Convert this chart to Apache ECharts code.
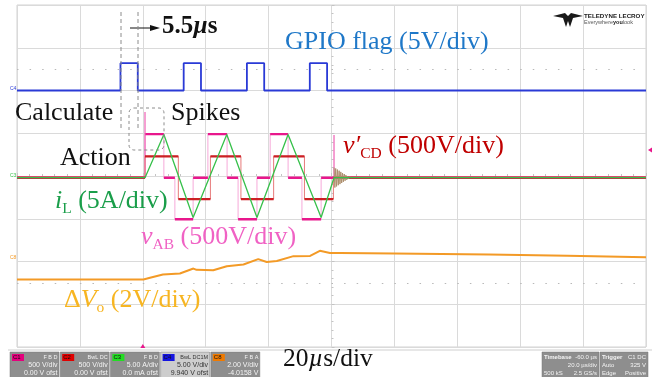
<!DOCTYPE html>
<html>
<head>
<meta charset="utf-8">
<script src="https://cdn.jsdelivr.net/npm/echarts@6/dist/echarts.min.js"></script>
<style>
  html, body { margin: 0; padding: 0; background: #fff; }
  #scope { width: 658px; height: 377px; }
</style>
</head>
<body>
<div id="scope"></div>
<script>
// ---- time base (µs, relative to the trigger) ----
const timeMin = -40, timeMax = 160, timePerDiv = 20;

// ---- C4: GPIO flag (V) ----
const gpioRise = [-7.1, 13.0, 33.1, 53.1];
const gpioFall = [-1.6, 18.5, 38.6, 58.6];
const gpioLow = 0, gpioHigh = 3.2;

// ---- C1: vAB (V), edge times and the level held after each edge ----
const vabEdgeTimes  = [0.7, 6.7, 10.2, 16.0, 20.7, 26.8, 30.3, 36.3, 40.5, 46.2, 50.6, 56.7];
const vabEdgeLevels = [510, 0, -485, 0, 510, 0, -485, 0, 510, 0, -485, 0];
const vabSpikeTimes = [0.7, 60.8];
const vabSpikePeaks = [770, 500];

// ---- C2: v'CD (V) ----
const vcdEdgeTimes  = [0.7, 11.3, 21.5, 31.2, 41.6, 51.4, 60.6];
const vcdEdgeLevels = [250, -250, 250, -250, 250, -250, 0];

// ringing once switching stops (V)
const ringStart = 60.8, ringStep = 0.27;
const ringValues = [120, -115, 108, -102, 95, -88, 82, -75, 68, -62, 55, -48, 42, -36, 30, -25, 20, -15, 10, -6, 3, 0];

// ---- C3: iL (A) ----
const ilTimes  = [-40, 0.7, 6.7, 16.0, 26.7, 36.3, 46.2, 56.7, 60.8, 160];
const ilValues = [0, 0, 5.05, -4.66, 5.05, -4.66, 5.05, -4.66, 0, 0];

// ---- C8: ΔVo (V) ----
const dvoTimes  = [-40, 0.2, 2.3, 6.4, 11.8, 16.1, 17.1, 22.4, 26.7, 32.0, 36.7, 39.4, 42.6, 47.9, 53.2, 56.3, 59.5, 62.7, 80, 110, 135, 160];
const dvoValues = [0, 0, 0.08, 0.23, 0.28, 0.51, 0.45, 0.43, 0.62, 0.70, 0.95, 0.82, 0.86, 1.09, 1.10, 1.34, 1.24, 1.24, 1.22, 1.17, 1.11, 1.04];

// channel vertical settings: units per division, zero position (div)
const ch = {
  gpio: { perDiv: 5,   zero: 2.0 },
  vab:  { perDiv: 500, zero: -0.04 },
  vcd:  { perDiv: 500, zero: -0.04 },
  il:   { perDiv: 5,   zero: -0.04 },
  dvo:  { perDiv: 2,   zero: -2.42 }
};

const toDiv = (c, v) => c.zero + v / c.perDiv;

// step trace: start level, then a vertical edge at each time
function stepPoints(c, times, levels, start) {
  const pts = [[timeMin, toDiv(c, start)]];
  let cur = start;
  times.forEach((t, i) => {
    pts.push([t, toDiv(c, cur)]);
    pts.push([t, toDiv(c, levels[i])]);
    cur = levels[i];
  });
  pts.push([timeMax, toDiv(c, cur)]);
  return pts;
}
// flat parts of a step trace only (drawn heavier, like the dense sample bands)
function flatSegments(c, times, levels, start) {
  const pts = [];
  const bounds = [timeMin].concat(times, [timeMax]);
  const lv = [start].concat(levels);
  for (let i = 0; i < bounds.length - 1; i++) {
    pts.push([bounds[i], toDiv(c, lv[i])], [bounds[i + 1], toDiv(c, lv[i])], null);
  }
  return pts;
}

const gpioTimes = [], gpioLevels = [];
gpioRise.forEach((t, i) => {
  gpioTimes.push(t, gpioFall[i]);
  gpioLevels.push(gpioHigh, gpioLow);
});

const vabSpikeData = [];
vabSpikeTimes.forEach((t, i) => {
  vabSpikeData.push([t, toDiv(ch.vab, 0)], [t, toDiv(ch.vab, vabSpikePeaks[i])], null);
});
const ringData = ringValues.map((v, i) => [ringStart + i * ringStep, toDiv(ch.vcd, v)]);
const ilData = ilTimes.map((t, i) => [t, toDiv(ch.il, ilValues[i])]);
const dvoData = dvoTimes.map((t, i) => [t, toDiv(ch.dvo, dvoValues[i])]);

const lineSeries = (name, data, color, width, extra) => Object.assign({
  name, type: 'line', data, showSymbol: false, symbol: 'none', connectNulls: false,
  lineStyle: { color, width }, silent: true, z: 3
}, extra || {});

const chart = echarts.init(document.getElementById('scope'), null, { renderer: 'canvas' });

const gridLine = '#dadada';
const option = {
  animation: false,
  backgroundColor: '#ffffff',
  grid: { left: 17, top: 5, width: 629, height: 342, show: true, borderColor: '#d2d2d2', borderWidth: 1 },
  xAxis: {
    type: 'value', min: timeMin, max: timeMax, interval: timePerDiv,
    axisLabel: { show: false },
    axisLine: { show: true, onZero: true, lineStyle: { color: gridLine } },
    axisTick: { show: true, inside: true, length: 3, lineStyle: { color: '#c4c4c4' } },
    minorTick: { show: true, splitNumber: 5, length: 2, lineStyle: { color: '#c4c4c4' } },
    splitLine: { show: true, lineStyle: { color: gridLine, width: 1 } }
  },
  yAxis: [{
    type: 'value', min: -4, max: 4, interval: 1,
    axisLabel: { show: false }, axisLine: { show: false }, axisTick: { show: false },
    splitLine: { show: true, lineStyle: { color: gridLine, width: 1 } }
  }, {
    // centre graticule column with its minor ticks
    type: 'value', min: -4, max: 4, interval: 1, position: 'left', offset: -314.5,
    axisLabel: { show: false },
    axisLine: { show: false },
    axisTick: { show: true, inside: true, length: 3, lineStyle: { color: '#c4c4c4' } },
    minorTick: { show: true, splitNumber: 5, length: 2, lineStyle: { color: '#c4c4c4' } },
    splitLine: { show: false }
  }],
  series: [
    lineSeries('dVo', dvoData, '#f39a26', 2, {
      markLine: {
        silent: true, symbol: 'none', label: { show: false },
        lineStyle: { color: '#b8b8b8', type: [1.5, 11.08], width: 1 },
        data: [{ yAxis: 2.5 }, { yAxis: -2.5 }]
      }
    }),
    lineSeries('gpio', stepPoints(ch.gpio, gpioTimes, gpioLevels, gpioLow), '#2a3ad6', 1.8),
    lineSeries('vabEdges', stepPoints(ch.vab, vabEdgeTimes, vabEdgeLevels, 0), '#f6a9d9', 1),
    lineSeries('vabFlats', flatSegments(ch.vab, vabEdgeTimes, vabEdgeLevels, 0), '#e8178c', 2.4),
    lineSeries('vabSpikes', vabSpikeData, '#ee5fb4', 1.2),
    lineSeries('vcdEdges', stepPoints(ch.vcd, vcdEdgeTimes, vcdEdgeLevels, 0), '#e77a7a', 1),
    lineSeries('vcdFlats', flatSegments(ch.vcd, vcdEdgeTimes, vcdEdgeLevels, 0), '#cc1f24', 2.2),
    lineSeries('ring', ringData, '#ad8e6c', 1),
    lineSeries('iL', ilData, '#36c04a', 1.3)
  ]
};
chart.setOption(option);

// ---- annotations ----
const measureCtx = document.createElement('canvas').getContext('2d');
const SERIF = '"Liberation Serif", "Times New Roman", serif';
const SANS = '"Liberation Sans", Arial, sans-serif';
function fontOf(p) {
  return (p.italic ? 'italic ' : '') + (p.bold ? 'bold ' : '') + p.size + 'px ' + (p.family || SERIF);
}
// a run of text parts on one baseline; sub-parts carry a dy offset
function textRun(x, baseline, color, parts) {
  const els = [];
  let cx = x;
  parts.forEach(p => {
    const font = fontOf(p);
    measureCtx.font = font;
    const w = measureCtx.measureText(p.t).width;
    const base = baseline + (p.dy || 0);
    els.push({
      type: 'text', x: cx, y: base - 0.34 * p.size, silent: true, z: 50,
      style: { text: p.t, font, fill: color, align: 'left', verticalAlign: 'middle' }
    });
    cx += w;
  });
  return els;
}

const g = [];
const big = 26, sub = 15.5;
g.push(...textRun(285, 51, '#1f78c8', [{ t: 'GPIO flag (5V/div)', size: big }]));
g.push(...textRun(15, 122, '#111', [{ t: 'Calculate', size: big }]));
g.push(...textRun(171, 122, '#111', [{ t: 'Spikes', size: big }]));
g.push(...textRun(60, 167, '#111', [{ t: 'Action', size: big }]));
g.push(...textRun(343, 155, '#c00000', [
  { t: 'v′', size: big, italic: true }, { t: 'CD', size: sub, dy: 4 }, { t: ' (500V/div)', size: big }
]));
g.push(...textRun(55, 210, '#1a9e4a', [
  { t: 'i', size: big, italic: true }, { t: 'L', size: sub, dy: 4 }, { t: ' (5A/div)', size: big }
]));
g.push(...textRun(141, 246, '#f062c4', [
  { t: 'v', size: big, italic: true }, { t: 'AB', size: sub, dy: 4 }, { t: ' (500V/div)', size: big }
]));
g.push(...textRun(64, 309, '#f7b521', [
  { t: 'Δ', size: big }, { t: 'V', size: big, italic: true }, { t: 'o', size: sub, dy: 4 }, { t: ' (2V/div)', size: big }
]));
g.push(...textRun(162, 35, '#111', [
  { t: '5.5', size: 25, bold: true }, { t: 'µ', size: 25, bold: true, italic: true }, { t: 's', size: 25, bold: true }
]));
g.push(...textRun(283, 368, '#111', [
  { t: '20', size: 25.5 }, { t: 'µ', size: 25.5, italic: true }, { t: 's/div', size: 25.5 }
]));

// 5.5 µs marker: arrow and dashed guides
g.push({ type: 'line', silent: true, z: 40, shape: { x1: 130, y1: 28, x2: 152, y2: 28 }, style: { stroke: '#111', lineWidth: 1 } });
g.push({ type: 'polygon', silent: true, z: 40, shape: { points: [[160, 28], [150, 25], [150, 31]] }, style: { fill: '#111' } });
[121, 138].forEach(x => g.push({
  type: 'line', silent: true, z: 40, shape: { x1: x, y1: 12, x2: x, y2: 128 },
  style: { stroke: '#8c8c8c', lineWidth: 1, lineDash: [4, 3] }
}));
g.push({
  type: 'rect', silent: true, z: 40, shape: { x: 129, y: 108, width: 35, height: 42, r: 5 },
  style: { fill: 'none', stroke: '#8c8c8c', lineWidth: 1, lineDash: [3, 3] }
});

// logo
g.push({ type: 'polygon', silent: true, z: 40, shape: { points: [[553, 16], [565, 13], [568, 16], [571, 13], [583, 16], [573, 18], [570, 27], [568, 21], [566, 27], [563, 18]] }, style: { fill: '#1a1a1a' } });
g.push({ type: 'text', x: 584, y: 16, silent: true, z: 40, style: { text: 'TELEDYNE LECROY', font: 'bold 6.2px ' + SANS, fill: '#222', verticalAlign: 'middle' } });
g.push({ type: 'text', x: 584, y: 22, silent: true, z: 40, style: { text: 'Everywhere{b|you}look', font: '5.5px ' + SANS, fill: '#555', verticalAlign: 'middle', rich: { b: { font: 'bold 5.5px ' + SANS, fill: '#222' } } } });

// status strip along the bottom
g.push({ type: 'line', silent: true, z: 30, shape: { x1: 8, y1: 350, x2: 652, y2: 350 }, style: { stroke: '#cfcfcf', lineWidth: 1 } });
const chanBoxes = [
  { tag: 'C1', tagColor: '#e4007c', lines: ['F B D', '500 V/div', '0.00 V ofst'], light: false },
  { tag: 'C2', tagColor: '#e00000', lines: ['BwL DC', '500 V/div', '0.00 V ofst'], light: false },
  { tag: 'C3', tagColor: '#22dd22', lines: ['F B D', '5.00 A/div', '0.0 mA ofst'], light: false },
  { tag: 'C4', tagColor: '#1414e0', lines: ['BwL DC1M', '5.00 V/div', '9.940 V ofst'], light: true },
  { tag: 'C8', tagColor: '#f07a00', lines: ['F B A', '2.00 V/div', '-4.0158 V'], light: false }
];
chanBoxes.forEach((b, i) => {
  const x = 10 + i * 50.2, y = 352, w = 49, h = 26;
  const txt = b.light ? '#333' : '#f4f4f4';
  g.push({ type: 'rect', silent: true, z: 30, shape: { x, y, width: w, height: h }, style: { fill: b.light ? '#cdcdcd' : '#8e8e8e', stroke: '#777', lineWidth: 0.5 } });
  g.push({ type: 'rect', silent: true, z: 31, shape: { x: x + 2, y: y + 2, width: 12, height: 7 }, style: { fill: b.tagColor } });
  g.push({ type: 'text', x: x + 3, y: y + 5.5, silent: true, z: 32, style: { text: b.tag, font: '6px ' + SANS, fill: '#111', verticalAlign: 'middle' } });
  b.lines.forEach((s, k) => g.push({
    type: 'text', x: x + w - 1.5, y: y + 5.5 + k * 8, silent: true, z: 32,
    style: { text: s, font: (k === 0 ? '5.5px ' : '7px ') + SANS, fill: txt, align: 'right', verticalAlign: 'middle' }
  }));
});
const infoBoxes = [
  { x: 542, w: 57, rows: [['Timebase', '-60.0 µs'], ['', '20.0 µs/div'], ['500 kS', '2.5 GS/s']] },
  { x: 600, w: 48, rows: [['Trigger', 'C1 DC'], ['Auto', '325 V'], ['Edge', 'Positive']] }
];
infoBoxes.forEach(b => {
  const y = 352, h = 26;
  g.push({ type: 'rect', silent: true, z: 30, shape: { x: b.x, y, width: b.w, height: h }, style: { fill: '#8e8e8e', stroke: '#777', lineWidth: 0.5 } });
  b.rows.forEach((r, k) => {
    g.push({ type: 'text', x: b.x + 2, y: y + 5 + k * 8, silent: true, z: 32, style: { text: r[0], font: (k === 0 ? 'bold ' : '') + '6px ' + SANS, fill: '#f4f4f4', verticalAlign: 'middle' } });
    g.push({ type: 'text', x: b.x + b.w - 2, y: y + 5 + k * 8, silent: true, z: 32, style: { text: r[1], font: '6px ' + SANS, fill: '#f4f4f4', align: 'right', verticalAlign: 'middle' } });
  });
});

// channel offset markers and trigger markers, placed on the graticule
const px = (t, d) => chart.convertToPixel({ xAxisIndex: 0, yAxisIndex: 0 }, [t, d]);
[['C4', '#2a3ad6', ch.gpio.zero], ['C3', '#36c04a', ch.il.zero], ['C8', '#f39a26', -1.95]].forEach(([name, color, d]) => {
  const p = px(timeMin, d);
  g.push({ type: 'text', x: p[0] - 7, y: p[1] - 2, silent: true, z: 40, style: { text: name, font: '5px ' + SANS, fill: color, verticalAlign: 'middle' } });
});
const trigPt = px(0, -4);
g.push({ type: 'polygon', silent: true, z: 40, shape: { points: [[trigPt[0], trigPt[1] - 3], [trigPt[0] - 2.5, trigPt[1] + 1], [trigPt[0] + 2.5, trigPt[1] + 1]] }, style: { fill: '#e8178c' } });
const lvlPt = px(timeMax, toDiv(ch.vab, 325));
g.push({ type: 'polygon', silent: true, z: 40, shape: { points: [[lvlPt[0] + 2, lvlPt[1]], [lvlPt[0] + 6, lvlPt[1] - 2.5], [lvlPt[0] + 6, lvlPt[1] + 2.5]] }, style: { fill: '#e8178c' } });

chart.setOption({ graphic: { elements: g } });
</script>
</body>
</html>
